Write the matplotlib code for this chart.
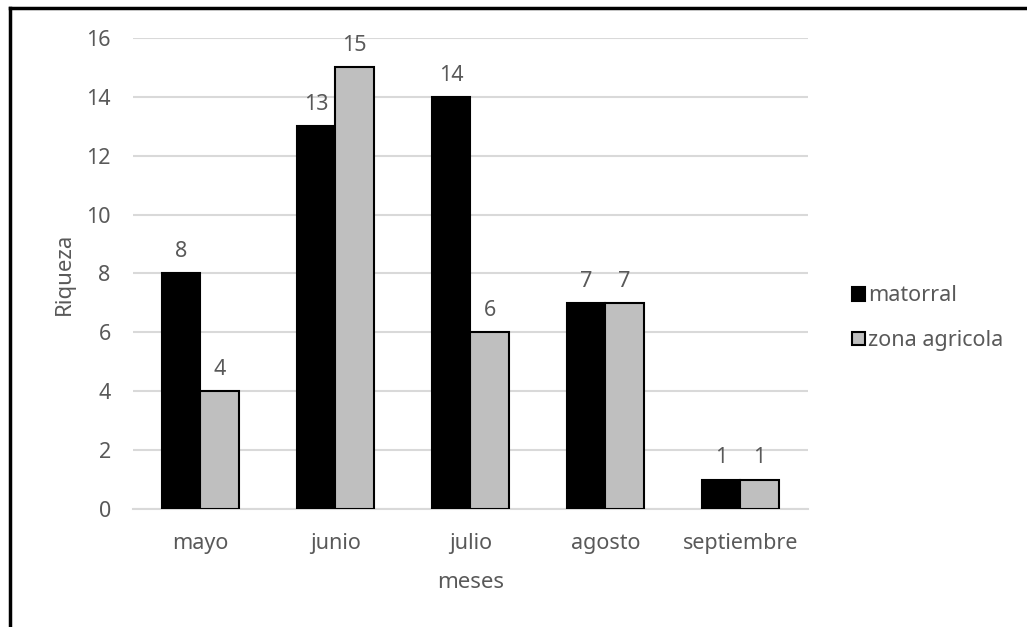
import matplotlib
matplotlib.use("Agg")
import matplotlib.pyplot as plt
import numpy as np
from matplotlib.lines import Line2D

months = ["mayo", "junio", "julio", "agosto", "septiembre"]
matorral = [8, 13, 14, 7, 1]
zona_agricola = [4, 15, 6, 7, 1]
yticks = [0, 2, 4, 6, 8, 10, 12, 14, 16]

plt.rcParams['font.family'] = ['Noto Sans', 'DejaVu Sans']
fig = plt.figure(figsize=(10.27, 6.27), dpi=100)
ax = fig.add_axes([0.1295, 0.1882, 0.657, 0.7512])

x = np.arange(len(months))
w = 0.285
b1 = ax.bar(x - w/2, matorral, w, color="black", edgecolor="black", linewidth=1.5, label="matorral", zorder=3)
b2 = ax.bar(x + w/2, zona_agricola, w, color="#bfbfbf", edgecolor="black", linewidth=1.5, label="zona agricola", zorder=3)

tc = "#595959"
for bars in (b1, b2):
    ax.bar_label(bars, padding=8, fontsize=15.5, color=tc)

ax.set_xlim(-0.5, len(months) - 0.5)
ax.set_ylim(0, 16)
ax.set_yticks(yticks)
ax.set_xticks(x)
ax.set_xticklabels(months)
ax.grid(axis="y", color="#d9d9d9", linewidth=1.5, zorder=0)
ax.set_axisbelow(True)
for s in ["top", "right", "left"]:
    ax.spines[s].set_visible(False)
ax.spines["bottom"].set_color("#d9d9d9")
ax.spines["bottom"].set_linewidth(1.5)
ax.tick_params(axis="both", length=0, labelsize=15.5, colors=tc)
ax.tick_params(axis="y", pad=16)
ax.tick_params(axis="x", pad=17)
ax.set_xlabel("meses", fontsize=16, color=tc, labelpad=13)
ax.set_ylabel("Riqueza", fontsize=16, color=tc, labelpad=8)

leg = ax.legend(loc="center left", bbox_to_anchor=(1.037, 0.405), frameon=False, fontsize=15.5,
                handlelength=0.6, handleheight=0.6, handletextpad=0.15, labelspacing=1.1, labelcolor=tc)

fig.add_artist(Line2D([10/1027, 10/1027], [0, 1 - 8/627], color="black", lw=2.5, transform=fig.transFigure))
fig.add_artist(Line2D([10/1027, 1], [1 - 8/627, 1 - 8/627], color="black", lw=2.5, transform=fig.transFigure))

fig.savefig("out.png", dpi=100)
